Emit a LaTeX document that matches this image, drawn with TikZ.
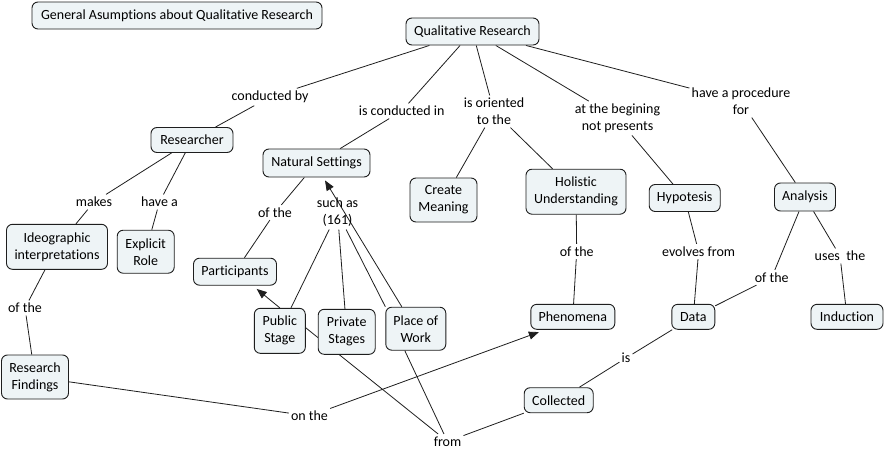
\documentclass[tikz,border=0pt]{standalone}
\usepackage{fontspec}
\setmainfont{Carlito}[Ligatures=NoCommon]
\usetikzlibrary{arrows.meta}
\pgfdeclarelayer{bg}
\pgfdeclarelayer{edges}
\pgfsetlayers{bg,edges,main}
\definecolor{cfill}{RGB}{238,244,246}
\definecolor{cline}{RGB}{30,30,30}
\begin{document}
\begin{tikzpicture}[x=1pt,y=-1pt,
  concept/.style={draw=cline, line width=0.9pt, fill=cfill, rounded corners=6pt, inner sep=0pt, align=center, font=\fontsize{14}{17}\selectfont},
  sz/.style 2 args={minimum width=#1pt, minimum height=#2pt},
  lab/.style={inner xsep=2pt, inner ysep=2.5pt, align=center, font=\fontsize{14}{17}\selectfont},
  link/.style={draw=cline, line width=0.8pt},
  arr/.style={link, -{Triangle[length=10pt,width=8pt]}}]
\useasboundingbox (0,0) rectangle (884,450);
\begin{pgfonlayer}{bg}
\fill[white] (0,0) rectangle (884,450);
\end{pgfonlayer}

% concepts
\node[concept, sz={290}{27}] (title) at (177,15.5) {General Asumptions about Qualitative Research};
\node[concept, sz={133}{27}] (qr) at (472.5,31.5) {Qualitative Research};
\node[concept, sz={82}{25}] (res) at (192,140) {Researcher};
\node[concept, sz={107}{28}] (ns) at (316.5,163) {Natural Settings};
\node[concept, sz={67}{44}] (cm) at (443.5,200) {Create\\Meaning};
\node[concept, sz={100}{45}] (hu) at (576,191.7) {Holistic\\Understanding};
\node[concept, sz={71}{27}] (hyp) at (684.7,198) {Hypotesis};
\node[concept, sz={61}{28}] (ana) at (805,197) {Analysis};
\node[concept, sz={101}{45}] (ide) at (57,246.8) {Ideographic\\interpretations};
\node[concept, sz={57}{43}] (exp) at (145.7,251.7) {Explicit\\Role};
\node[concept, sz={83}{27}] (part) at (235,271.7) {Participants};
\node[concept, sz={51}{45}] (pub) at (279.8,330.8) {Public\\Stage};
\node[concept, sz={57}{45}] (pri) at (346.7,331.8) {Private\\Stages};
\node[concept, sz={60}{43}] (pow) at (415.8,328.7) {Place of\\Work};
\node[concept, sz={67}{44}] (rf) at (35,377) {Research\\Findings};
\node[concept, sz={84}{25}] (phen) at (572.8,316.8) {Phenomena};
\node[concept, sz={43}{25}] (data) at (693.3,316.8) {Data};
\node[concept, sz={72}{25}] (ind) at (847,316.8) {Induction};
\node[concept, sz={69}{25}] (col) at (558.7,400.2) {Collected};

% linking phrases
\node[lab] (l1) at (270,97) {conducted by};
\node[lab] (l2) at (401.7,111) {is conducted in};
\node[lab] (l3) at (494,111.5) {is oriented\\to the};
\node[lab] (l4) at (617.5,118.3) {at the begining\\not presents};
\node[lab] (l5) at (741,101.5) {have a procedure\\for};
\node[lab] (l6) at (94,202) {makes};
\node[lab] (l7) at (159.5,202) {have a};
\node[lab] (l8) at (275,212.5) {of the};
\node[lab] (l9) at (337.5,212.5) {such as\\(161)};
\node[lab] (l10) at (25,308) {of the};
\node[lab] (l11) at (309.5,416) {on the};
\node[lab] (l12) at (447.5,441.5) {from};
\node[lab] (l13) at (576.7,251.5) {of the};
\node[lab] (l14) at (698.6,251.5) {evolves from};
\node[lab] (l15) at (771.7,277.5) {of the};
\node[lab] (l16) at (840,256) {uses\ \ the};
\node[lab] (l17) at (626,358) {is};

\begin{pgfonlayer}{edges}
\draw[link] (qr) -- (l1);  \draw[link] (l1) -- (res);
\draw[link] (qr) -- (l2);  \draw[link] (l2) -- (ns);
\draw[link] (qr) -- (l3);  \draw[link] (l3) -- (cm);  \draw[link] (l3) -- (hu);
\draw[link] (qr) -- (l4);  \draw[link] (l4) -- (hyp);
\draw[link] (qr) -- (l5);  \draw[link] (l5) -- (ana);
\draw[link] (res) -- (l6); \draw[link] (l6) -- (ide);
\draw[link] (res) -- (l7); \draw[link] (l7) -- (exp);
\draw[link] (ns) -- (l8);  \draw[link] (l8) -- (part);
\draw[link] (pub) -- (l9); \draw[link] (pri) -- (l9); \draw[link] (pow.north west) -- (l9);
\draw[arr] ([xshift=-14pt]pow.north) -- ([xshift=8.5pt,yshift=-3pt]ns.south);
\draw[arr] (pub.north) -- ([xshift=21.7pt,yshift=-3.3pt]part.south);
\draw[link] (ide) -- (l10); \draw[link] (l10) -- (rf);
\draw[link] (rf) -- (l11);  \draw[arr, shorten >=1pt] (l11) -- ([xshift=-33pt,yshift=-2pt]phen.south);
\draw[link] ([yshift=3pt]pub.east) -- (l12);
\draw[link] ([xshift=-11pt]pow.south) -- (l12);
\draw[link] (l12) -- (col);
\draw[link] (hu) -- (l13);  \draw[link] (l13) -- (phen);
\draw[link] (hyp) -- (l14); \draw[link] (l14) -- (data);
\draw[link] (ana) -- (l15); \draw[link] (l15) -- (data);
\draw[link] (ana) -- (l16); \draw[link] (l16) -- (ind);
\draw[link] (data) -- (l17); \draw[link] (l17) -- (col);
\end{pgfonlayer}
\end{tikzpicture}
\end{document}
